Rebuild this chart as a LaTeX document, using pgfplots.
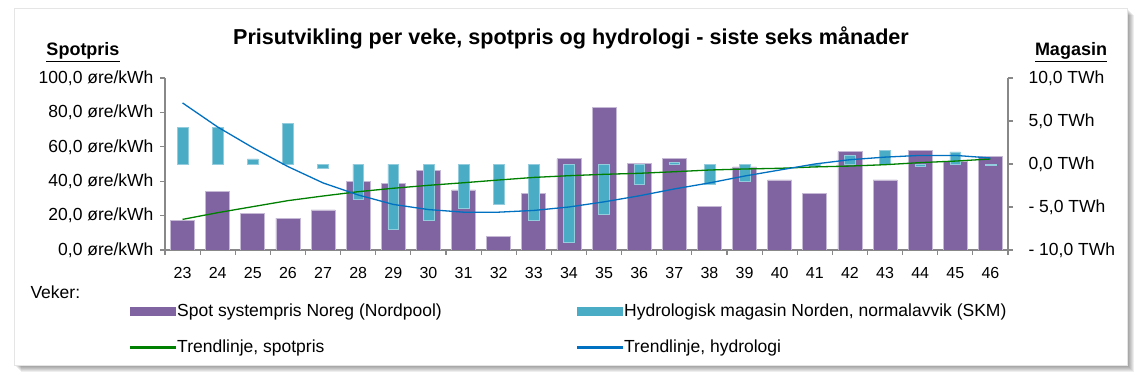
\documentclass[border=0pt]{standalone}
\usepackage{fontspec}
\setmainfont{Liberation Sans}
\usepackage{pgfplots}
\usepackage{pgfplotstable}
\pgfplotsset{compat=1.18}
\definecolor{spotpurple}{HTML}{8064A2}
\definecolor{hydrocyan}{HTML}{4BACC6}
\definecolor{trendgreen}{HTML}{008000}
\definecolor{trendblue}{HTML}{0070C0}
\definecolor{axisgray}{HTML}{888888}

\pgfplotstableread{
week spot tspot
23 17.4 17.8
24 33.9 21.7
25 21.5 25.2
26 18.6 28.7
27 23.3 31.4
28 39.7 33.9
29 38.8 35.9
30 46.5 37.6
31 34.9 39.1
32 8.0 40.7
33 33.0 42.2
34 53.1 43.2
35 83.1 44.0
36 50.2 44.6
37 53.1 45.5
38 25.4 46.5
39 48.3 47.1
40 40.7 47.5
41 33.0 48.3
42 57.2 48.8
43 40.7 49.6
44 58.1 50.8
45 51.5 51.7
46 54.3 52.9
}\spotdata

\pgfplotstableread{
week hydro
23 4.3
24 4.3
25 0.6
26 4.7
27 -0.5
28 -4.1
29 -7.6
30 -6.5
31 -5.1
32 -4.7
33 -6.5
34 -9.1
35 -5.9
36 -2.4
37 0.2
38 -2.3
39 -2.0
41 -0.3
42 1.0
43 1.6
44 -0.3
45 1.4
46 -0.2
}\hydrodata

\pgfplotstableread{
week thydro
23 7.1
24 4.3
25 1.9
26 -0.3
27 -2.2
28 -3.6
29 -4.7
30 -5.3
31 -5.6
32 -5.6
33 -5.4
34 -5.0
35 -4.4
36 -3.7
37 -2.9
38 -2.2
39 -1.4
40 -0.7
41 0.0
42 0.5
43 0.8
44 1.0
45 1.0
46 0.7
}\trendhydro

\pgfplotsset{
  base/.style={
    at={(165pt,133pt)}, anchor=south west, scale only axis,
    width=843pt, height=172pt,
    xmin=22.5, xmax=46.5,
    ticklabel style={font=\fontsize{17.5}{20}\selectfont},
    tick align=outside, major tick length=5pt, minor tick length=5pt,
    tick style={axisgray, line width=1.2pt},
    axis line style={-, axisgray, line width=1.2pt},
  }
}

\begin{document}
\begin{tikzpicture}
\path[use as bounding box] (0,0) rectangle (1138pt,383pt);
% shadow + frame
\foreach \i in {1,...,7}{
  \fill[black, opacity=0.065] ({14pt+\i pt},{18pt-\i pt}) rectangle ({1127pt+\i pt},{375pt-\i pt});
}
\filldraw[fill=white, draw=black!10] (14pt,18pt) rectangle (1127pt,375pt);

% axis 1: spot price bars (left scale)
\begin{axis}[base,
  ymin=0, ymax=100,
  axis y line*=left, axis x line*=bottom,
  xtick={23,...,46},
  xticklabels={23,24,25,26,27,28,29,30,31,32,33,34,35,36,37,38,39,40,41,42,43,44,45,46},
  major x tick style={draw=none},
  minor xtick={22.5,23.5,...,46.5},
  xticklabel style={font=\fontsize{16}{19}\selectfont, yshift=-9pt},
  ytick={0,20,40,60,80,100},
  yticklabels={{0,0 øre/kWh},{20,0 øre/kWh},{40,0 øre/kWh},{60,0 øre/kWh},{80,0 øre/kWh},{100,0 øre/kWh}},
  yticklabel style={xshift=-3pt},
  ybar, bar width=24pt, bar shift=0pt,
]
\addplot[fill=spotpurple, draw=spotpurple!45, line width=0.8pt] table[x=week,y=spot]{\spotdata};
\end{axis}

% axis 2: hydrology bars (right scale)
\begin{axis}[base,
  ymin=-10, ymax=10,
  axis y line*=right, axis x line=none,
  ytick={-10,-5,0,5,10},
  yticklabels={{- 10,0 TWh},{- 5,0 TWh},{0,0 TWh},{5,0 TWh},{10,0 TWh}},
  yticklabel style={anchor=west, xshift=12pt},
  ybar, bar width=10.7pt, bar shift=0pt,
]
\addplot[fill=hydrocyan, draw=hydrocyan!60, line width=0.5pt] table[x=week,y=hydro]{\hydrodata};
\end{axis}

% axis 3: spot trend (left scale)
\begin{axis}[base, ymin=0, ymax=100, hide axis]
\addplot[trendgreen, line width=1.3pt, no marks] table[x=week,y=tspot]{\spotdata};
\end{axis}

% axis 4: hydro trend (right scale) + legend
\begin{axis}[base, ymin=-10, ymax=10, hide axis,
  legend columns=2,
  legend cell align=left,
  legend style={draw=none, fill=none, at={(axis description cs:-0.0455,-0.29)}, anchor=north west,
    font=\fontsize{17.5}{20}\selectfont, row sep=18pt,
    /tikz/every even column/.append style={column sep=133pt}},
]
\addlegendimage{legend image code/.code={\fill[spotpurple] (0pt,-4pt) rectangle (45pt,4pt);}}
\addlegendentry{Spot systempris Noreg (Nordpool)}
\addlegendimage{legend image code/.code={\fill[hydrocyan] (0pt,-4pt) rectangle (45pt,4pt);}}
\addlegendentry{Hydrologisk magasin Norden, normalavvik (SKM)}
\addlegendimage{legend image code/.code={\fill[trendgreen] (0pt,-0.7pt) rectangle (45pt,0.7pt);}}
\addlegendentry{Trendlinje, spotpris}
\addlegendimage{legend image code/.code={\fill[trendblue] (0pt,-0.7pt) rectangle (45pt,0.7pt);}}
\addlegendentry{Trendlinje, hydrologi}
\addplot[trendblue, line width=1.3pt, no marks, forget plot] table[x=week,y=thydro]{\trendhydro};
\end{axis}

\node[font=\bfseries\fontsize{21.6}{24}\selectfont] at (571pt,345pt) {Prisutvikling per veke, spotpris og hydrologi - siste seks månader};
\node[font=\bfseries\fontsize{18}{21}\selectfont] at (83pt,331pt) {\underline{Spotpris}};
\node[font=\bfseries\fontsize{18}{21}\selectfont] at (1071pt,331pt) {\underline{Magasin}};
\node[anchor=west, font=\fontsize{17.5}{20}\selectfont] at (27pt,91pt) {Veker:};
\end{tikzpicture}
\end{document}
